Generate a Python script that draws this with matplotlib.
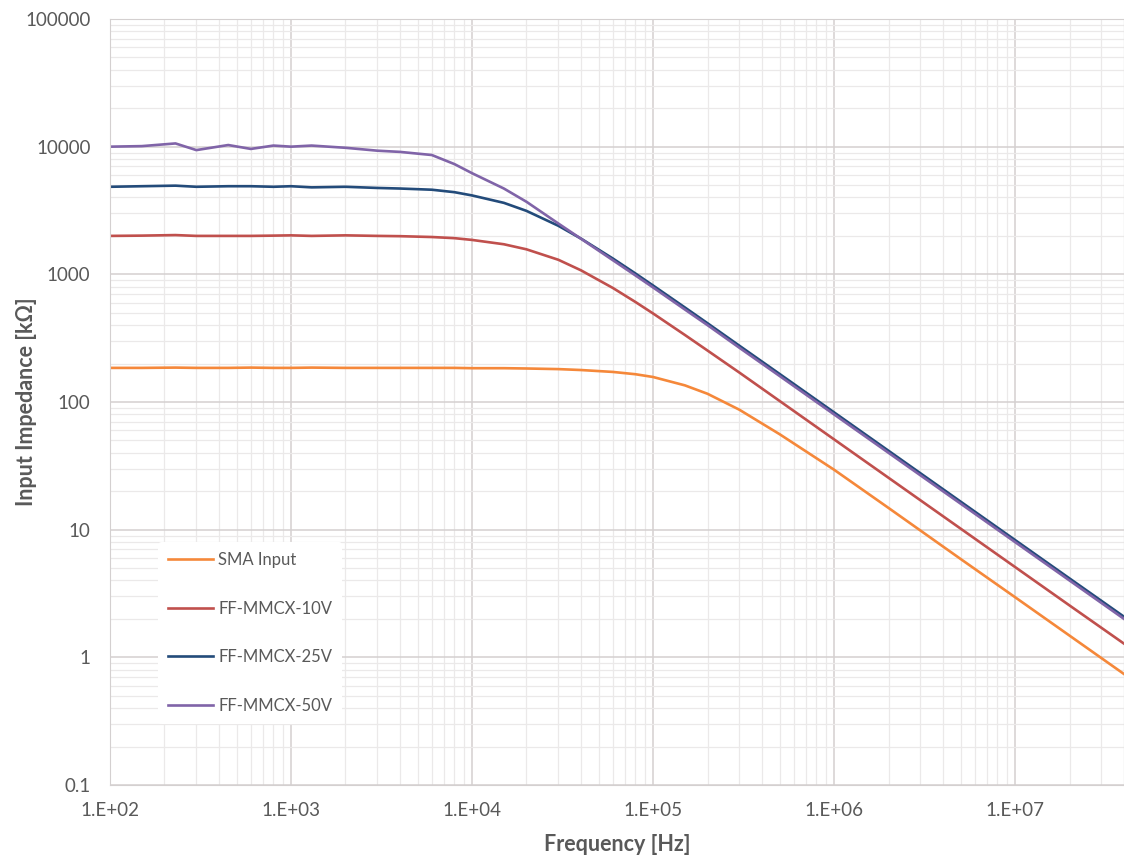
import math
import matplotlib
matplotlib.use("Agg")
import matplotlib.pyplot as plt
from matplotlib.ticker import LogLocator, FuncFormatter, NullFormatter

plt.rcParams['font.family'] = ['Lato', 'DejaVu Sans']

# frecuencias (Hz)
freq = [1e2, 1.5e2, 2.3e2, 3e2, 4.5e2, 6e2, 8e2, 1e3, 1.3e3, 2e3, 3e3, 4e3,
        6e3, 8e3, 1e4, 1.5e4, 2e4, 3e4, 4e4, 6e4, 8e4, 1e5, 1.5e5, 2e5,
        3e5, 5e5, 1e6, 2e6, 5e6, 1e7, 2e7, 4e7]

# impedancia de entrada (kOhm)
sma = [185, 185, 186, 185, 185, 186, 185, 185, 186, 185, 185, 185,
       185, 185, 184, 184, 183, 181, 178, 172, 165, 157, 135, 116,
       87, 56, 29.5, 14.8, 5.9, 2.96, 1.48, 0.74]
mmcx10 = [2000, 2010, 2030, 2000, 2000, 2000, 2010, 2020, 2000, 2020, 2000, 1990,
          1960, 1920, 1860, 1720, 1570, 1300, 1075, 782, 607, 494, 335, 253,
          170, 102, 51, 25.5, 10.2, 5.1, 2.55, 1.28]
mmcx25 = [4850, 4900, 4950, 4850, 4900, 4900, 4850, 4900, 4800, 4850, 4750, 4700,
          4600, 4400, 4150, 3630, 3140, 2400, 1905, 1330, 1015, 818, 550, 414,
          276, 166, 83, 41.5, 16.6, 8.3, 4.15, 2.08]
mmcx50 = [10000, 10100, 10600, 9400, 10300, 9600, 10200, 10000, 10200, 9800, 9300, 9100,
          8600, 7300, 6200, 4700, 3700, 2500, 1900, 1290, 980, 790, 530, 400,
          266, 160, 80, 40, 16, 8.0, 4.0, 2.0]

series = {
    "SMA Input": (sma, "#F5883A"),
    "FF-MMCX-10V": (mmcx10, "#C0504D"),
    "FF-MMCX-25V": (mmcx25, "#234B7A"),
    "FF-MMCX-50V": (mmcx50, "#8064A8"),
}

fig = plt.figure(figsize=(11.24, 8.6), dpi=100)
ax = fig.add_axes([110 / 1124, 1 - 785 / 860, 1 - 110 / 1124, (785 - 19) / 860])

for name, (vals, col) in series.items():
    ax.plot(freq, vals, color=col, lw=1.9, label=name)

ax.set_xscale("log")
ax.set_yscale("log")
ax.set_xlim(1e2, 4e7)
ax.set_ylim(0.1, 1e5)

ax.xaxis.set_major_locator(LogLocator(base=10, numticks=20))
ax.yaxis.set_major_locator(LogLocator(base=10, numticks=20))
ax.xaxis.set_minor_locator(LogLocator(base=10, subs=range(2, 10), numticks=100))
ax.yaxis.set_minor_locator(LogLocator(base=10, subs=range(2, 10), numticks=100))
ax.xaxis.set_minor_formatter(NullFormatter())
ax.yaxis.set_minor_formatter(NullFormatter())
ax.xaxis.set_major_formatter(FuncFormatter(lambda v, p: "1.E+%02d" % round(math.log10(v))))
ax.yaxis.set_major_formatter(FuncFormatter(lambda v, p: ("%g" % v) if v < 1 else "%d" % round(v)))

ax.grid(True, which="major", color="#d4d0d0", lw=1.1)
ax.grid(True, which="minor", color="#ebe9e9", lw=0.9)
ax.set_axisbelow(True)
ax.tick_params(which="both", length=0, colors="#595959", labelsize=13.5)
ax.tick_params(axis="y", pad=14)
ax.tick_params(axis="x", pad=12)
for s in ax.spines.values():
    s.set_color("#d4d0d0")

ax.set_xlabel("Frequency [Hz]", fontsize=15.5, fontweight="bold", color="#595959")
ax.set_ylabel("Input Impedance [kΩ]", fontsize=15.5, fontweight="bold", color="#595959")
ax.xaxis.set_label_coords(0.5, (785 - 834) / 766)
ax.yaxis.set_label_coords((37 - 110) / 1014, 0.5)

leg = ax.legend(loc="upper left", bbox_to_anchor=(150 / 1124, 1 - 534 / 860),
                bbox_transform=fig.transFigure, frameon=True, fontsize=12,
                labelspacing=1.95, handlelength=2.7, handletextpad=0.3,
                borderpad=0.6)
leg.get_frame().set_edgecolor("none")
leg.get_frame().set_facecolor("white")
leg.get_frame().set_alpha(1.0)
for t in leg.get_texts():
    t.set_color("#595959")

fig.savefig("out.png", dpi=100)
